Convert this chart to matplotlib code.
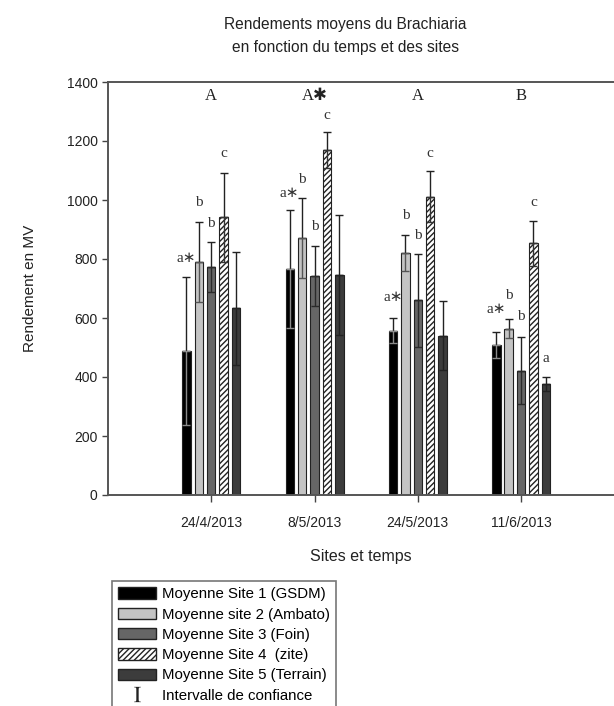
import numpy as np
import matplotlib.pyplot as plt
from matplotlib.patches import Patch
from matplotlib.lines import Line2D

plt.rcParams['font.family'] = ['Liberation Sans', 'DejaVu Sans']
plt.rcParams['hatch.linewidth'] = 1.0
plt.rcParams['hatch.color'] = '#333333'
plt.rcParams['mathtext.fontset'] = 'stix'

dates = ['24/4/2013', '8/5/2013', '24/5/2013', '11/6/2013']
sites = ['Moyenne Site 1 (GSDM)', 'Moyenne site 2 (Ambato)', 'Moyenne Site 3 (Foin)',
         'Moyenne Site 4  (zite)', 'Moyenne Site 5 (Terrain)']

# moyennes par site (une liste par site, une valeur par date)
site1 = [488, 766, 557, 508]
site2 = [790, 872, 821, 564]
site3 = [773, 742, 660, 421]
site4 = [941, 1169, 1011, 853]
site5 = [633, 745, 540, 376]

# intervalles de confiance
err1 = [250, 200, 42, 45]
err2 = [136, 136, 62, 33]
err3 = [85, 103, 158, 114]
err4 = [152, 60, 87, 77]
err5 = [192, 204, 117, 25]

# lettres de significativite (par site, par date) et leur hauteur
letters = [['a∗', 'a∗', 'a∗', 'a∗'],
           ['b', 'b', 'b', 'b'],
           ['b', 'b', 'b', 'b'],
           ['c', 'c', 'c', 'c'],
           ['', '', '', 'a']]
letter_y = [[800, 1023, 670, 629],
            [991, 1068, 949, 677],
            [921, 910, 881, 604],
            [1158, 1288, 1158, 991],
            [0, 0, 0, 463]]
group_letters = ['A', 'A✱', 'A', 'B']
group_y = 1352

means = [site1, site2, site3, site4, site5]
errs = [err1, err2, err3, err4, err5]
colors = ['#000000', '#c4c4c4', '#666666', 'white', '#3c3c3c']
hatches = [None, None, None, '//////', None]
low_colors = ['#8a8a8a', '#555555', '#2a2a2a', '#333333', '#222222']

fig = plt.figure(figsize=(6.14, 7.06), dpi=100)
ax = fig.add_axes([108 / 614, 1 - 495 / 706, 1 - 108 / 614, (495 - 82) / 706])

x = np.arange(1, len(dates) + 1)
width = 0.082
step = 0.12
for k in range(5):
    pos = x + (k - 2) * step
    ax.bar(pos, means[k], width, color=colors[k], edgecolor='#222222', linewidth=0.8,
           hatch=hatches[k], zorder=2)
    ax.errorbar(pos, means[k], yerr=[np.zeros(4), errs[k]], fmt='none', ecolor='#222222',
                elinewidth=1, capsize=3, capthick=1, zorder=3)
    ax.errorbar(pos, means[k], yerr=[errs[k], np.zeros(4)], fmt='none', ecolor=low_colors[k],
                elinewidth=1, capsize=3, capthick=1, zorder=3)
    for i in range(4):
        if letters[k][i]:
            ax.text(pos[i], letter_y[k][i], letters[k][i], ha='center', va='center',
                    fontsize=11, color='#333333', family=['Liberation Serif', 'DejaVu Sans'])

for i in range(4):
    ax.text(x[i], group_y, group_letters[i], ha='center', va='center', fontsize=12,
            color='#222222', family=['Liberation Serif', 'DejaVu Sans'])

ax.set_xlim(0, 4.9)
ax.set_ylim(0, 1400)
ax.set_yticks(np.arange(0, 1401, 200))
ax.set_xticks(x)
ax.set_xticklabels(dates)
ax.tick_params(axis='both', direction='out', length=4, width=1, colors='#444444',
               labelsize=10, labelcolor='#222222')
ax.tick_params(axis='x', length=5, pad=10)
for s in ['left', 'top', 'bottom']:
    ax.spines[s].set_color('#555555')
    ax.spines[s].set_linewidth(1.4)
ax.spines['right'].set_visible(False)

ax.set_ylabel('Rendement en MV', fontsize=11, color='#222222', labelpad=21)
ax.set_xlabel('Sites et temps', fontsize=11.5, color='#222222', labelpad=14)
fig.text(345 / 614, 1 - 36 / 706, 'Rendements moyens du Brachiaria\nen fonction du temps et des sites',
         ha='center', va='center', fontsize=11.2, color='#222222', linespacing=1.6)

handles = [Patch(facecolor=colors[k], edgecolor='#222222', hatch=hatches[k], label=sites[k])
           for k in range(5)]
handles.append(Line2D([], [], linestyle='none', marker=r'$\mathrm{I}$', markersize=11,
                      markeredgewidth=0, color='#222222', label='Intervalle de confiance'))
leg = fig.legend(handles=handles, loc='upper left', bbox_to_anchor=(112 / 614, 1 - 581 / 706),
                 fontsize=10.8, frameon=True, fancybox=False, edgecolor='#555555',
                 handlelength=2.5, handleheight=0.8, handletextpad=0.4, labelspacing=0.42,
                 borderpad=0.42, borderaxespad=0)
leg.get_frame().set_linewidth(1.2)

fig.savefig('out.png', dpi=100)
